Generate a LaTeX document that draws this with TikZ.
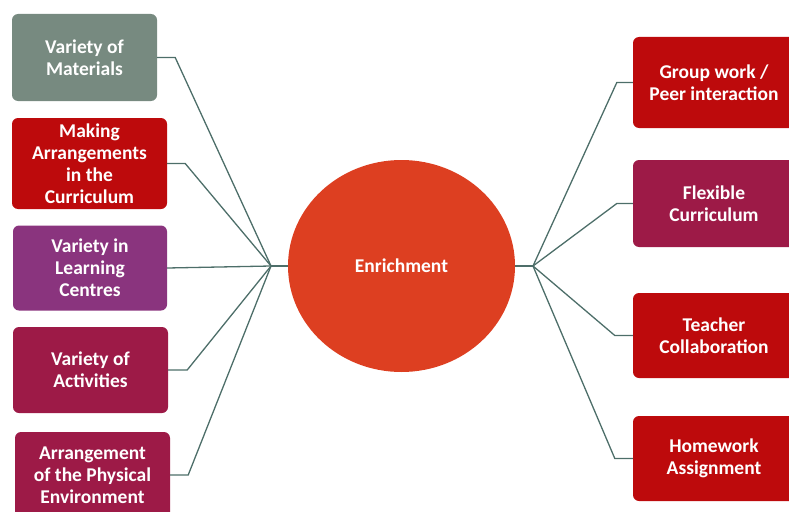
\documentclass[tikz,border=0pt]{standalone}
\usepackage{fontspec}
\setmainfont{Carlito}
\usetikzlibrary{shapes.geometric}
\begin{document}
\begin{tikzpicture}[x=1pt,y=-1pt,
  topic/.style={rounded corners=6pt, text=white, align=center,
    font=\fontsize{19.5}{22}\selectfont\bfseries, inner sep=0pt},
  link/.style={draw=linkcol, line width=1.3pt},
]
\definecolor{linkcol}{HTML}{4D6E69}
\definecolor{cgray}{HTML}{778A80}
\definecolor{cred}{HTML}{BD0A0C}
\definecolor{cpurple}{HTML}{8A347E}
\definecolor{cwine}{HTML}{9D1A47}
\definecolor{corange}{HTML}{DD3F21}
\useasboundingbox (0,0) rectangle (789,511);
\clip (0,0) rectangle (789,511);

% central topic
\node[ellipse, fill=corange, minimum width=227pt, minimum height=212pt,
      inner sep=0pt, text=white, font=\fontsize{19.5}{22}\selectfont\bfseries]
      (hub) at (401.5,266) {Enrichment};
\coordinate (jl) at (271,266);
\coordinate (jr) at (533,266);

% left topics
\node[topic, fill=cgray, minimum width=145pt, minimum height=87pt] (l1) at (84.5,57.5) {Variety of\\Materials};
\node[topic, fill=cred, minimum width=155pt, minimum height=91pt] (l2) at (89.5,163.5) {Making\\Arrangements\\in the\\Curriculum};
\node[topic, fill=cpurple, minimum width=154pt, minimum height=85pt] (l3) at (90,268) {Variety in\\Learning\\Centres};
\node[topic, fill=cwine, minimum width=155pt, minimum height=86pt] (l4) at (90.5,370) {Variety of\\Activities};
\node[topic, fill=cwine, minimum width=155pt, minimum height=86pt] (l5) at (92.5,475) {Arrangement\\of the Physical\\Environment};

% right topics
\node[topic, fill=cred, minimum width=162pt, minimum height=91pt] (r1) at (714,82.5) {Group work /\\Peer interaction};
\node[topic, fill=cwine, minimum width=162pt, minimum height=87pt] (r2) at (714,203.5) {Flexible\\Curriculum};
\node[topic, fill=cred, minimum width=162pt, minimum height=85pt] (r3) at (714,335.5) {Teacher\\Collaboration};
\node[topic, fill=cred, minimum width=162pt, minimum height=85pt] (r4) at (714,458.5) {Homework\\Assignment};

% connectors
\draw[link] (hub.west) -- (jl);
\draw[link] (hub.east) -- (jr);
\draw[link] (l1.east) -- ++(18,0) -- (jl);
\draw[link] (l2.east) -- ++(18,0) -- (jl);
\draw[link] (l3.east) -- (jl);
\draw[link] (l4.east) -- ++(19,0) -- (jl);
\draw[link] (l5.east) -- ++(18,0) -- (jl);
\draw[link] (r1.west) -- ++(-16,0) -- (jr);
\draw[link] (r2.west) -- ++(-16,0) -- (jr);
\draw[link] (r3.west) -- ++(-18,0) -- (jr);
\draw[link] (r4.west) -- ++(-18,0) -- (jr);
\end{tikzpicture}
\end{document}
